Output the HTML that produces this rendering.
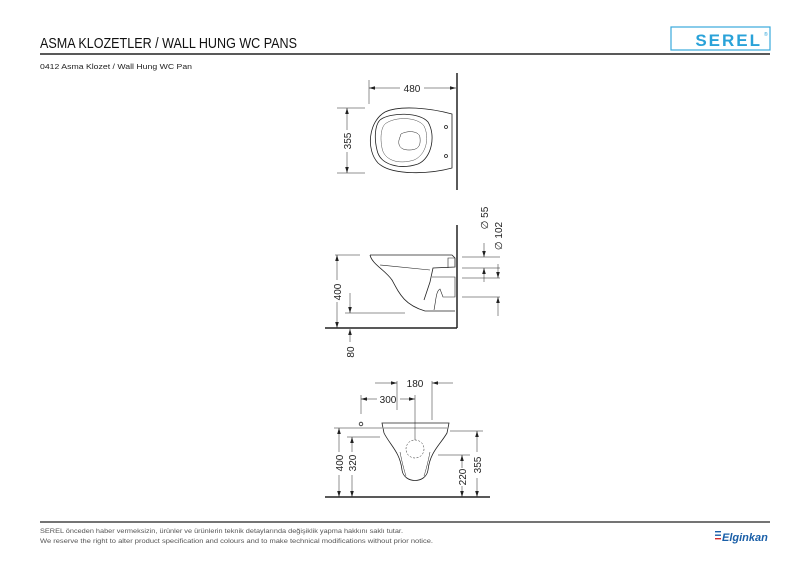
<!DOCTYPE html>
<html><head><meta charset="utf-8"><style>
html,body{margin:0;padding:0;background:#fff;width:800px;height:565px;overflow:hidden}
svg{display:block}
text{font-family:"Liberation Sans",sans-serif}
</style></head><body>
<svg width="800" height="565" viewBox="0 0 800 565" xmlns="http://www.w3.org/2000/svg">
<defs><marker id="a" markerWidth="6" markerHeight="6" refX="6" refY="3" orient="auto-start-reverse" markerUnits="userSpaceOnUse"><path d="M0,1.2 L6,3 L0,4.8 Z" fill="#222"/></marker></defs>
<text x="40" y="48" font-size="15" fill="#111" textLength="257" lengthAdjust="spacingAndGlyphs">ASMA KLOZETLER / WALL HUNG WC PANS</text>
<line x1="40" y1="54" x2="770" y2="54" stroke="#222" stroke-width="1.5"/>
<text x="40" y="69" font-size="7.5" fill="#222" textLength="152" lengthAdjust="spacingAndGlyphs">0412  Asma Klozet / Wall Hung WC Pan</text>
<rect x="671" y="27" width="99" height="23" fill="#fff" stroke="#39a9dc" stroke-width="1.2"/>
<text x="762" y="46" font-size="17" font-weight="bold" fill="#2aa2d8" text-anchor="end" letter-spacing="2">SEREL</text>
<text x="764" y="36" font-size="5" fill="#2aa2d8">®</text>

<g stroke="#222" fill="none" stroke-width="0.8">
<!-- top view -->
<line x1="457" y1="73" x2="457" y2="190" stroke-width="1.5"/>
<line x1="369" y1="80" x2="369" y2="104" stroke-width="0.5"/>
<line x1="400" y1="88" x2="369" y2="88" stroke-width="0.5" marker-end="url(#a)"/><line x1="424" y1="88" x2="456" y2="88" stroke-width="0.5" marker-end="url(#a)"/>
<path d="M337,108 L365,108 M337,173 L365,173" stroke-width="0.5"/>
<line x1="347" y1="130" x2="347" y2="108" stroke-width="0.5" marker-end="url(#a)"/><line x1="347" y1="152" x2="347" y2="173" stroke-width="0.5" marker-end="url(#a)"/>
<path d="M452,114 C430,108 400,105 385,112 C368,122 366,150 378,163 C392,176 430,174 452,168 Z"/>
<path d="M380,120 C390,112 420,112 428,122 C436,135 432,158 418,164 C400,170 380,165 377,150 C374,138 375,125 380,120 Z"/>
<path d="M385,124 C395,116 418,117 424,126 C430,138 426,155 414,160 C398,165 384,160 382,148 C380,138 381,128 385,124 Z" stroke-width="0.4"/>
<path d="M401,134 C408,130 420,131 420,138 C421,147 417,150 409,150 C400,150 398,145 399,140 Z" stroke-width="0.5"/>
<circle cx="446" cy="127" r="1.5"/><circle cx="446" cy="156" r="1.5"/>
<!-- side view -->
<line x1="457" y1="225" x2="457" y2="328" stroke-width="1.5"/>
<line x1="325" y1="328" x2="457" y2="328" stroke-width="1.5"/>
<path d="M335,255 L360,255 M345,313 L405,313" stroke-width="0.5"/>
<line x1="337" y1="280" x2="337" y2="255" stroke-width="0.5" marker-end="url(#a)"/>
<line x1="337" y1="302" x2="337" y2="328" stroke-width="0.5" marker-end="url(#a)"/>
<line x1="350" y1="293" x2="350" y2="313" stroke-width="0.5" marker-end="url(#a)"/>
<line x1="350" y1="342" x2="350" y2="329" stroke-width="0.5" marker-end="url(#a)"/>
<path d="M370,255 L452,255 L455,258 L455,267 L433,268 L430,282 L424,300 M370,255 C372,264 385,270 392,280 C400,295 405,305 425,311 L455,311"/>
<path d="M380,265 L430,270 M432,277 L455,277 L455,297 L443,297 L440,289 C436,291 436,300 434,310 M455,258 L448,258 L448,268" stroke-width="0.6"/>
<path d="M462,257 L500,257 M462,268 L500,268 M462,278 L500,278 M462,297 L500,297" stroke-width="0.5"/>
<line x1="484" y1="243" x2="484" y2="257" stroke-width="0.5" marker-end="url(#a)"/>
<line x1="484" y1="282" x2="484" y2="268" stroke-width="0.5" marker-end="url(#a)"/>
<line x1="498" y1="264" x2="498" y2="278" stroke-width="0.5" marker-end="url(#a)"/>
<line x1="498" y1="316" x2="498" y2="297" stroke-width="0.5" marker-end="url(#a)"/>
<!-- front view -->
<path d="M397,381 L397,410 M432,381 L432,420 M415,395 L415,440 M361,395 L361,414" stroke-width="0.5"/>
<line x1="375" y1="383" x2="397" y2="383" stroke-width="0.5" marker-end="url(#a)"/>
<line x1="453" y1="383" x2="432" y2="383" stroke-width="0.5" marker-end="url(#a)"/>
<line x1="377" y1="399" x2="361" y2="399" stroke-width="0.5" marker-end="url(#a)"/>
<line x1="400" y1="399" x2="415" y2="399" stroke-width="0.5" marker-end="url(#a)"/>
<circle cx="361" cy="424" r="1.8"/>
<path d="M334,428 L382,428 M347,437 L380,437 M450,431 L483,431 M438,455 L470,455" stroke-width="0.5"/>
<line x1="339" y1="452" x2="339" y2="428" stroke-width="0.5" marker-end="url(#a)"/>
<line x1="339" y1="475" x2="339" y2="497" stroke-width="0.5" marker-end="url(#a)"/>
<line x1="352" y1="452" x2="352" y2="437" stroke-width="0.5" marker-end="url(#a)"/>
<line x1="352" y1="475" x2="352" y2="497" stroke-width="0.5" marker-end="url(#a)"/>
<line x1="462" y1="468" x2="462" y2="455" stroke-width="0.5" marker-end="url(#a)"/>
<line x1="462" y1="486" x2="462" y2="497" stroke-width="0.5" marker-end="url(#a)"/>
<line x1="477" y1="452" x2="477" y2="431" stroke-width="0.5" marker-end="url(#a)"/>
<line x1="477" y1="478" x2="477" y2="497" stroke-width="0.5" marker-end="url(#a)"/>
<line x1="325" y1="497" x2="490" y2="497" stroke-width="1.5"/>
<path d="M382,423 L449,423 L447,433 C440,445 430,452 428,470 C426,484 404,484 402,470 C400,452 390,445 384,433 Z"/>
<path d="M384,428 L447,428 M400,452 C402,462 404,470 406,476 M430,452 C428,462 426,470 424,476" stroke-width="0.5"/>
<circle cx="415" cy="449" r="9" stroke-dasharray="2 1.5" stroke-width="0.5"/>
</g>
<g font-size="10" fill="#222">
<text x="412" y="92" text-anchor="middle">480</text>
<text transform="translate(351,141) rotate(-90)" text-anchor="middle">355</text>
<text transform="translate(341,292) rotate(-90)" text-anchor="middle">400</text>
<text transform="translate(354,352) rotate(-90)" text-anchor="middle">80</text>
<text transform="translate(488,218) rotate(-90)" text-anchor="middle">∅ 55</text>
<text transform="translate(502,236) rotate(-90)" text-anchor="middle">∅ 102</text>
<text x="415" y="387" text-anchor="middle">180</text>
<text x="388" y="403" text-anchor="middle">300</text>
<text transform="translate(343,463) rotate(-90)" text-anchor="middle">400</text>
<text transform="translate(356,463) rotate(-90)" text-anchor="middle">320</text>
<text transform="translate(466,477) rotate(-90)" text-anchor="middle">220</text>
<text transform="translate(481,465) rotate(-90)" text-anchor="middle">355</text>
</g>

<line x1="40" y1="522" x2="770" y2="522" stroke="#222" stroke-width="1.3"/>
<text x="40" y="533" font-size="6.5" fill="#555" textLength="363" lengthAdjust="spacingAndGlyphs">SEREL önceden haber vermeksizin, ürünler ve ürünlerin teknik detaylarında değişiklik yapma hakkını saklı tutar.</text>
<text x="40" y="543" font-size="6.5" fill="#555" textLength="393" lengthAdjust="spacingAndGlyphs">We reserve the right to alter product specification and colours and to make technical modifications without prior notice.</text>
<g><rect x="715" y="531" width="6" height="1.4" fill="#1a5fa8"/><rect x="715" y="534.5" width="6" height="1.4" fill="#1a5fa8"/><rect x="715" y="538" width="6" height="1.4" fill="#d42a2a"/></g>
<text x="722" y="541" font-size="11" font-style="italic" font-weight="bold" fill="#1a5fa8">Elginkan</text>
</svg>
</body></html>
